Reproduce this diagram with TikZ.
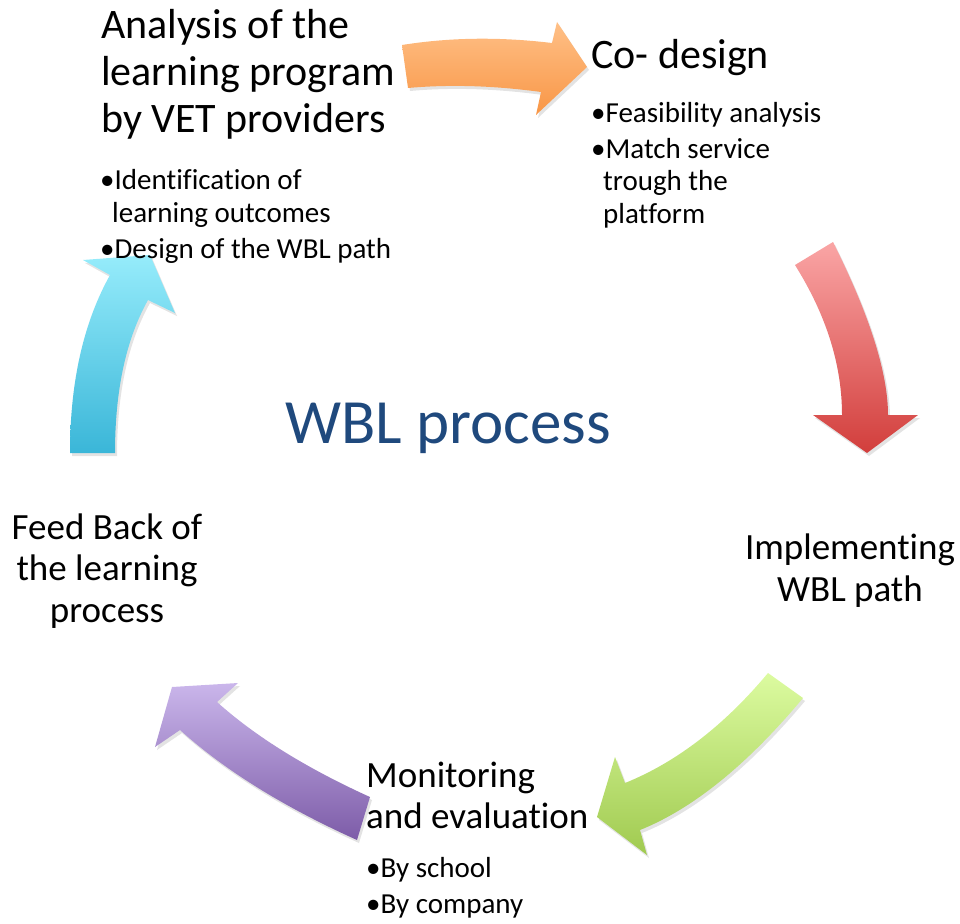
\documentclass[tikz,border=0pt]{standalone}
\usepackage{fontspec}
\setmainfont{Carlito}[Ligatures={NoCommon}]
\usetikzlibrary{shadows}
\definecolor{orTop}{RGB}{255,192,135}
\definecolor{orBot}{RGB}{248,150,70}
\definecolor{rdTop}{RGB}{250,165,165}
\definecolor{rdBot}{RGB}{210,62,60}
\definecolor{gnTop}{RGB}{220,251,160}
\definecolor{gnBot}{RGB}{160,202,80}
\definecolor{puTop}{RGB}{202,182,235}
\definecolor{puBot}{RGB}{125,92,168}
\definecolor{cyTop}{RGB}{150,236,251}
\definecolor{cyBot}{RGB}{58,182,216}
\definecolor{titleblue}{RGB}{31,73,125}
\begin{document}
\begin{tikzpicture}[x=1pt,y=-1pt,
  arrowshape/.style={draw=none, drop shadow={opacity=0.22, shadow xshift=2pt, shadow yshift=-3pt}},
  bigtext/.style={font=\fontsize{42}{46.5}\selectfont, inner sep=0pt, align=left, anchor=base west},
  midtext/.style={font=\fontsize{37}{41.5}\selectfont, inner sep=0pt, align=center, anchor=base},
  midleft/.style={font=\fontsize{37}{41}\selectfont, inner sep=0pt, align=left, anchor=base west},
  smalltext/.style={font=\fontsize{29}{32.5}\selectfont, inner sep=0pt, align=left, anchor=base west},
  titletext/.style={font=\fontsize{63}{70}\selectfont, inner sep=0pt, anchor=base, text=titleblue}]
\useasboundingbox (0,0) rectangle (960,923);

% orange arrow (top)
\path[arrowshape, top color=orTop, bottom color=orBot]
  (402,45) .. controls (452,37) and (502,37) .. (552,43) -- (557,22) -- (587,67)
  -- (536,115) -- (541,92) .. controls (497,86) and (452,84) .. (408,88) -- cycle;
% red arrow (right)
\path[arrowshape, top color=rdTop, bottom color=rdBot]
  (795,265) -- (833,242) .. controls (869.7,315.3) and (888,373) .. (888,415)
  -- (918,415) -- (867,453) -- (813,415) -- (842,415)
  .. controls (842,365) and (826.3,315) .. (795,265) -- cycle;
% green arrow (bottom right)
\path[arrowshape, top color=gnTop, bottom color=gnBot]
  (768,673) -- (803,698) .. controls (747.3,764.7) and (693,808.7) .. (640,830)
  -- (647,855) -- (597,817) -- (615,757) -- (625,783)
  .. controls (676.3,762.3) and (724,725.7) .. (768,673) -- cycle;
% purple arrow (bottom left)
\path[arrowshape, top color=puTop, bottom color=puBot]
  (370,797) -- (357,840) .. controls (283.7,807) and (224.7,770.3) .. (180,730)
  -- (155,747) -- (172,687) -- (238,683) -- (217,702)
  .. controls (255.7,736.7) and (306.7,768.3) .. (370,797) -- cycle;
% cyan arrow (left)
\path[arrowshape, top color=cyTop, bottom color=cyBot]
  (70,453) -- (115,453) .. controls (115,390.3) and (126,339.3) .. (148,300)
  -- (175,313) -- (150,255) -- (83,260) -- (110,275)
  .. controls (83.3,323) and (70,382.3) .. (70,453) -- cycle;

% texts (base anchor = baseline of the last line)
\node[bigtext] (analysis) at (101,132) {Analysis of the\\learning program\\by VET providers};
\node[smalltext] (analysisb) at (100,258) {•Identification of\\\hspace*{12pt}learning outcomes\\[3.5pt]•Design of the WBL path};
\node[bigtext] (codesign) at (591,69) {Co- design};
\node[smalltext] (codesignb) at (591,223) {•Feasibility analysis\\[3.5pt]•Match service\\\hspace*{12pt}trough the\\\hspace*{12pt}platform};
\node[midtext] (implement) at (850,601) {Implementing\\WBL path};
\node[midleft] (monitor) at (366,828) {Monitoring\\and evaluation};
\node[smalltext] (monitorb) at (366,913) {•By school\\[3.5pt]•By company};
\node[midtext] (feedback) at (107,622) {Feed Back of\\the learning\\process};
\node[titletext] (title) at (448,443) {WBL process};
\end{tikzpicture}
\end{document}
